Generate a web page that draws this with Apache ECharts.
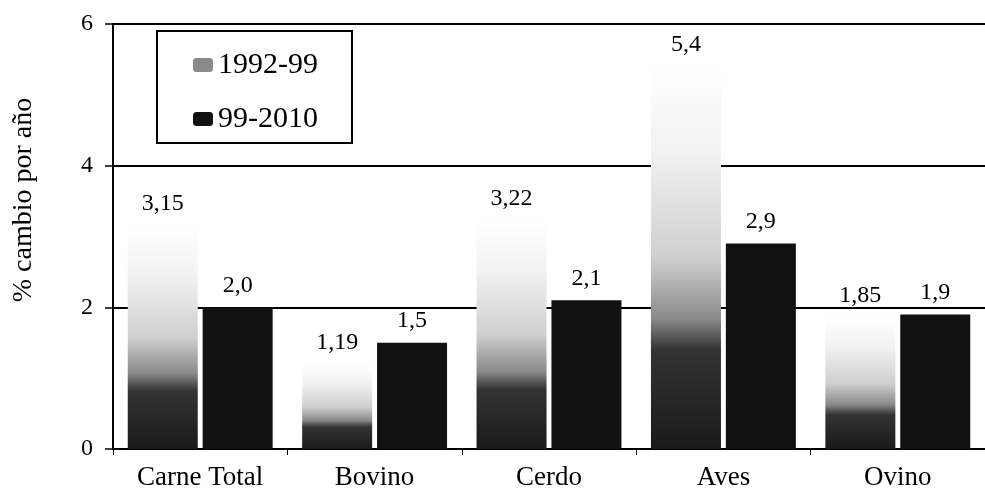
<!DOCTYPE html>
<html><head><meta charset="utf-8">
<script src="https://cdn.jsdelivr.net/npm/echarts@6/dist/echarts.min.js"></script>
<style>html,body{margin:0;padding:0;background:#fff}#c{width:985px;height:498px}</style>
</head><body><div id="c"></div>
<script>
var categories = ['Carne Total', 'Bovino', 'Cerdo', 'Aves', 'Ovino'];
var s1992 = [3.15, 1.19, 3.22, 5.4, 1.85];
var s1999 = [2.0, 1.5, 2.1, 2.9, 1.9];
var yTicks = [0, 2, 4, 6];
var seriesNames = ['1992-99', '99-2010'];

var serif = 'Liberation Serif';
var chart = echarts.init(document.getElementById('c'));
var fade = new echarts.graphic.LinearGradient(0, 0, 0, 1, [
  {offset: 0, color: '#ffffff'},
  {offset: 0.22, color: '#f2f2f2'},
  {offset: 0.5, color: '#cfcfcf'},
  {offset: 0.66, color: '#8a8a8a'},
  {offset: 0.74, color: '#333333'},
  {offset: 1, color: '#1a1a1a'}
]);
chart.setOption({
  animation: false,
  grid: {left: 113, right: 0, top: 24, bottom: 49},
  legend: {
    orient: 'vertical', left: 157, top: 31,
    padding: [19, 34, 9, 36], itemGap: 24,
    borderColor: '#000', borderWidth: 2, backgroundColor: '#fff',
    itemWidth: 20, itemHeight: 14,
    textStyle: {fontFamily: serif, fontSize: 30, color: '#000'},
    data: [
      {name: seriesNames[0], itemStyle: {color: '#8a8a8a'}},
      {name: seriesNames[1], itemStyle: {color: '#111'}}
    ]
  },
  xAxis: {
    type: 'category', data: categories,
    axisLine: {lineStyle: {color: '#000', width: 2}},
    axisTick: {show: true, length: 6, lineStyle: {color: '#000'}},
    axisLabel: {fontFamily: serif, fontSize: 27, color: '#000', margin: 15}
  },
  yAxis: {
    type: 'value', min: yTicks[0], max: yTicks[yTicks.length - 1], interval: 2,
    axisLine: {show: true, lineStyle: {color: '#000', width: 2}},
    axisTick: {show: true, length: 8, lineStyle: {color: '#000', width: 1.5}},
    axisLabel: {fontFamily: serif, fontSize: 24, color: '#000', margin: 20},
    splitLine: {show: true, lineStyle: {color: '#000', width: 2}}
  },
  graphic: [{
    type: 'text', x: 24, y: 200, rotation: Math.PI / 2,
    style: {text: '% cambio por año', font: '28px "Liberation Serif"', fill: '#000',
      textAlign: 'center', textVerticalAlign: 'middle'}
  }],
  series: [
    {
      name: seriesNames[0], type: 'bar', data: s1992, barWidth: 70, barGap: '7%',
      itemStyle: {color: fade},
      label: {show: true, position: 'top', distance: 10, fontFamily: serif, fontSize: 24, color: '#000',
        formatter: function (p) { return String(p.value).replace('.', ','); }}
    },
    {
      name: seriesNames[1], type: 'bar', data: s1999, barWidth: 70,
      itemStyle: {color: '#111'},
      label: {show: true, position: 'top', distance: 10, fontFamily: serif, fontSize: 24, color: '#000',
        formatter: function (p) { return p.value.toFixed(1).replace('.', ','); }}
    }
  ]
});
</script></body></html>
